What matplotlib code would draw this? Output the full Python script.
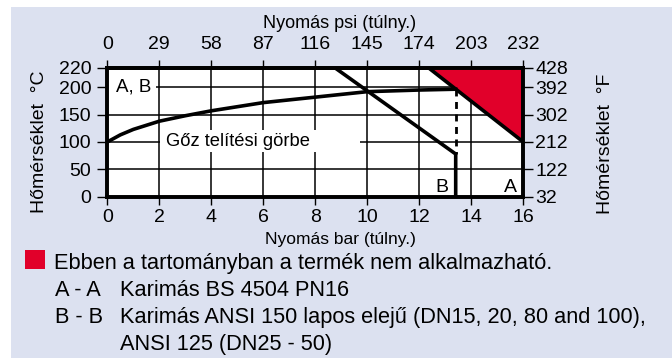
import numpy as np
import matplotlib
matplotlib.use("Agg")
import matplotlib.pyplot as plt
from matplotlib.patches import Rectangle, Polygon

plt.rcParams['font.family'] = ['Liberation Sans', 'DejaVu Sans']

# saturation curve (bar g / degC)
sat_bar = [0, 0.5, 1, 2, 3, 4, 6, 8, 10, 12, 13.4]
sat_temp = [100, 113, 123, 138, 148, 157, 172, 182, 192, 195, 196.5]

# limit lines
a_bar = [12.35, 16]
a_temp = [220, 100]
b_bar = [8.75, 13.4, 13.4]
b_temp = [220, 78, 0]
dash_bar = [13.4, 13.4]
dash_temp = [196.5, 78]
red_bar = [12.35, 16, 16]
red_temp = [220, 220, 100]

bar_ticks = [0, 2, 4, 6, 8, 10, 12, 14, 16]
psi_ticks = [0, 29, 58, 87, 116, 145, 174, 203, 232]
c_ticks = [0, 50, 100, 150, 200, 220]
f_labels = ['32', '122', '212', '302', '392', '428']

title_top = 'Nyomás psi (túlny.)'
title_bottom = 'Nyomás bar (túlny.)'
ylabel_c = 'Hőmérséklet  °C'
ylabel_f = 'Hőmérséklet  °F'
sat_label = 'Gőz telítési görbe'
legend_red = 'Ebben a tartományban a termék nem alkalmazható.'
legend_keys = ['A - A', 'B - B', '']
legend_texts = ['Karimás BS 4504 PN16',
                'Karimás ANSI 150 lapos elejű (DN15, 20, 80 and 100),',
                'ANSI 125 (DN25 - 50)']

RED = '#e1002a'
BG = '#dce1f0'

# the chart stretches 200..220 degC
k = 1.79
def fwd(t):
    t = np.asarray(t, dtype=float)
    return np.where(t <= 200, t, 200 + (t - 200) * k)
def inv(u):
    u = np.asarray(u, dtype=float)
    return np.where(u <= 200, u, 200 + (u - 200) / k)

fig = plt.figure(figsize=(6.72, 3.58), dpi=100)
fig.patch.set_facecolor('white')
fig.add_artist(Rectangle((11/672, 0), 1 - 11/672, 1 - 7/358,
                         transform=fig.transFigure, facecolor=BG,
                         edgecolor='none', zorder=-10))

ax = fig.add_axes([107.3/672, 1 - 196.7/358, 416/672, 129/358])
ax.set_yscale('function', functions=(fwd, inv))
ax.set_xlim(0, 16)
ax.set_ylim(0, 220)
ax.set_facecolor('white')

ax.set_xticks(bar_ticks)
ax.set_yticks(c_ticks)
ax.set_yticklabels([str(c) for c in c_ticks])
ax.grid(True, color='black', lw=1.1)
ax.set_axisbelow(True)
ax.tick_params(axis='x', length=6, width=1, labelsize=14, pad=3)
ax.tick_params(axis='y', length=7, width=1, labelsize=14, pad=4.5)
for s in ax.spines.values():
    s.set_linewidth(2.6)

# white boxes behind the labels
ax.add_patch(Rectangle((0, 192), 1.88, 16, facecolor='white', edgecolor='none', zorder=1))
ax.add_patch(Rectangle((2.03, 82), 7.69, 40, facecolor='white', edgecolor='none', zorder=1))

ax.add_patch(Polygon(np.column_stack([red_bar, red_temp]), closed=True,
                     facecolor=RED, edgecolor='none', zorder=2))
ax.plot(sat_bar, sat_temp, color='black', lw=2.6, zorder=3)
ax.plot(a_bar, a_temp, color='black', lw=2.6, zorder=3)
ax.plot(b_bar, b_temp, color='black', lw=2.6, zorder=3, solid_joinstyle='miter')
ax.plot(dash_bar, dash_temp, color='black', lw=2, ls=(0, (2.5, 2)), zorder=3)

ax.text(0.35, 200, 'A, B', fontsize=13.5, ha='left', va='center', zorder=4)
ax.text(2.25, 100, sat_label, fontsize=13.2, ha='left', va='center', zorder=4)
ax.text(13.1, 8, 'B', fontsize=14, ha='right', va='baseline', zorder=4)
ax.text(15.75, 8, 'A', fontsize=14, ha='right', va='baseline', zorder=4)

top = ax.secondary_xaxis('top', functions=(lambda b: np.asarray(b) * 14.5,
                                           lambda p: np.asarray(p) / 14.5))
top.set_xticks(psi_ticks)
top.tick_params(length=6, width=1, labelsize=14, pad=4.5)
top.spines['top'].set_linewidth(2.6)

right = ax.twinx()
right.set_yscale('function', functions=(fwd, inv))
right.set_ylim(0, 220)
right.set_yticks(c_ticks)
right.set_yticklabels(f_labels)
right.tick_params(length=7, width=1, labelsize=14, pad=1.5)
for s in right.spines.values():
    s.set_linewidth(2.6)

fig.text(340/672, 1 - 28/358, title_top, fontsize=13, ha='center', va='baseline')
fig.text(340/672, 1 - 244/358, title_bottom, fontsize=12.5, ha='center', va='baseline')
fig.text(39/672, 1 - 142/358, ylabel_c, fontsize=14, rotation=90, ha='center', va='center')
fig.text(605/672, 1 - 144/358, ylabel_f, fontsize=14, rotation=90, ha='center', va='center')

# legend block
fig.add_artist(Rectangle((25/672, 1 - 269/358), 20/672, 19/358,
                         transform=fig.transFigure, facecolor=RED, edgecolor='none'))
fig.text(54/672, 1 - 269/358, legend_red, fontsize=15.7, ha='left', va='baseline')
for i, (key, txt) in enumerate(zip(legend_keys, legend_texts)):
    yb = 1 - (296 + 27 * i) / 358
    if key:
        fig.text(55/672, yb, key, fontsize=15.7, ha='left', va='baseline')
    fig.text(120/672, yb, txt, fontsize=15.7, ha='left', va='baseline')

fig.savefig('out.png', dpi=100)
